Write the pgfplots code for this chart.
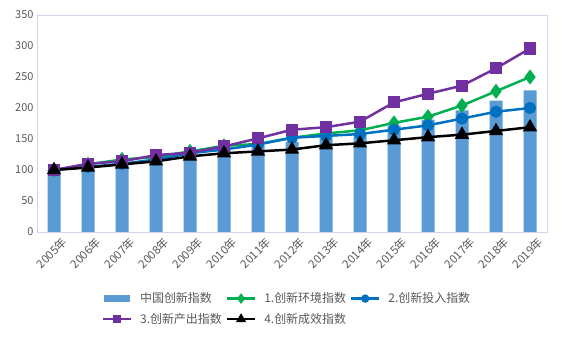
\documentclass[border=0pt]{standalone}
\usepackage{fontspec}
\setmainfont{Noto Sans CJK SC}
\usepackage{pgfplots}
\pgfplotsset{compat=1.18}
\definecolor{barblue}{HTML}{5B9BD5}
\definecolor{lgreen}{HTML}{00B050}
\definecolor{lblue}{HTML}{0070C0}
\definecolor{lpurple}{HTML}{7030A0}
\definecolor{textgray}{HTML}{595959}
\definecolor{bordercol}{HTML}{D4D4F0}
\pgfplotstableread{
x bar env inp out eff
0 100.0 100 100 100 100
1 106.5 109 105 110 104
2 113.9 117 110 114 109
3 118.6 121 117 124 114
4 125.4 130 127 128 122
5 131.8 139 133 138 127
6 139.6 142 141 151 130
7 145.0 152 152 165 133
8 152.6 159 155 169 140
9 158.2 164 158 178 143
10 171.5 176 165 209 148
11 181.2 186 172 223 153
12 196.3 204 183 236 157
13 212.0 227 194 264 163
14 228.3 250 200 296 169
}\datatable
\pgfplotsset{
 lineleg/.style={legend image code/.code={%
   \draw[mark repeat=2,mark phase=2,mark options={scale=0.6}] plot coordinates {(0bp,0bp) (14bp,0bp) (28bp,0bp)};}},
}
\begin{document}
\begin{tikzpicture}
\path (0bp,0bp) rectangle (562bp,337bp);
\begin{axis}[
 at={(37bp,105bp)}, anchor=south west, scale only axis,
 width=510bp, height=217bp,
 xmin=-0.5, xmax=14.5, ymin=0, ymax=350,
 ytick={0,50,...,350},
 xtick={0,...,14},
 xticklabels={2005年,2006年,2007年,2008年,2009年,2010年,2011年,2012年,2013年,2014年,2015年,2016年,2017年,2018年,2019年},
 x tick label style={rotate=45, anchor=north east, font=\fontsize{11.5}{13}\selectfont, text=textgray, xshift=3bp, yshift=-7bp, inner sep=1bp},
 y tick label style={font=\fontsize{11}{13}\selectfont, text=textgray},
 /pgf/number format/assume math mode=true,
 axis line style={draw=bordercol},
 major tick length=0,
 legend style={at={(0.49,-0.27)}, anchor=north, draw=none, font=\fontsize{12}{14}\selectfont\color{textgray},
   /tikz/every odd column/.append style={column sep=6bp},
   /tikz/every even column/.append style={column sep=2bp},
   row sep=5bp, inner sep=0pt,
   nodes={inner sep=2bp}},
 legend columns=3,
 legend cell align=left,
]
\addplot[ybar, bar width=13bp, fill=barblue, draw=none,
  legend image code/.code={\fill[barblue] (1bp,-3.5bp) rectangle (27bp,3.5bp);}]
  table[x=x, y=bar] {\datatable};
\addlegendentry{中国创新指数}
\addplot[lgreen, line width=2.5pt, mark=diamond*, mark size=5.5bp, lineleg] table[x=x, y=env] {\datatable};
\addlegendentry{1.创新环境指数}
\addplot[lblue, line width=2.5pt, mark=*, mark size=4.8bp, lineleg] table[x=x, y=inp] {\datatable};
\addlegendentry{2.创新投入指数}
\addplot[lpurple, line width=2.5pt, mark=square*, mark size=4.8bp, lineleg] table[x=x, y=out] {\datatable};
\addlegendentry{3.创新产出指数}
\addplot[black, line width=2.5pt, mark=triangle*, mark size=5.8bp, lineleg] table[x=x, y=eff] {\datatable};
\addlegendentry{4.创新成效指数}
\end{axis}
\end{tikzpicture}
\end{document}
